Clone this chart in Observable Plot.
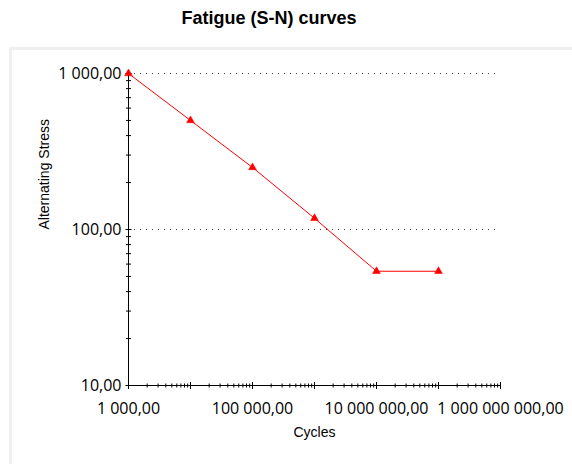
<!DOCTYPE html>
<html>
<head>
<meta charset="utf-8">
<script src="https://cdn.jsdelivr.net/npm/d3@7"></script>
<script src="https://cdn.jsdelivr.net/npm/@observablehq/plot@0.6"></script>
<style>
  html, body { margin: 0; padding: 0; background: #fff; }
  #wrap { position: relative; width: 572px; height: 464px; overflow: hidden; background: #fff; }
  #title { position: absolute; left: 0; top: 8px; width: 538px; text-align: center;
           font: bold 18px "Liberation Sans", Arial, sans-serif; color: #000; }
  #panel { position: absolute; left: 9px; top: 47px; width: 700px; height: 600px;
           border: 3px solid #f0f0f0; box-sizing: border-box; }
  #chart { position: absolute; left: 0; top: 0; }
</style>
</head>
<body>
<div id="wrap">
  <div id="panel"></div>
  <div id="title">Fatigue (S-N) curves</div>
  <div id="chart"></div>
</div>
<script>
// Data (S-N curve)
const cycles = [1e3, 1e4, 1e5, 1e6, 1e7, 1e8];
const stress = [1000, 500, 250, 118, 54, 54];

// Axis tick labels
const xTickValues = [1e3, 1e5, 1e7, 1e9];
const yTickValues = [10, 100, 1000];
const xDecades = [1e3, 1e4, 1e5, 1e6, 1e7, 1e8, 1e9];
const yDecades = [10, 100, 1000];
const minorMultipliers = [2, 3, 4, 5, 6, 7, 8, 9];
const gridValues = [100, 1000];

const xTitle = "Cycles";
const yTitle = "Alternating Stress";

const data = cycles.map((c, i) => ({cycles: c, stress: stress[i]}));
const xMinor = xDecades.slice(0, -1).flatMap(d => minorMultipliers.map(m => d * m));
const yMinor = yDecades.slice(0, -1).flatMap(d => minorMultipliers.map(m => d * m));

const fmt = d3.formatLocale({decimal: ",", thousands: "\u00a0", grouping: [3], currency: ["", ""]}).format(",.2f");

const vTick = h => ({draw(ctx) { ctx.moveTo(0, -h); ctx.lineTo(0, h); }});
const hTick = w => ({draw(ctx) { ctx.moveTo(-w, 0); ctx.lineTo(w, 0); }});

const labelFont = '"Open Sans", sans-serif';
const titleFont = '"Liberation Sans", Arial, sans-serif';

const chart = Plot.plot({
  width: 572,
  height: 464,
  marginLeft: 128,
  marginRight: 72,
  marginTop: 73,
  marginBottom: 79,
  style: {background: "transparent", overflow: "visible"},
  x: {type: "log", domain: [1e3, 1e9], axis: null},
  y: {type: "log", domain: [10, 1000], axis: null},
  marks: [
    // dotted grid
    Plot.ruleY(gridValues, {x1: 1e3, x2: 1e9, stroke: "#404040", strokeDasharray: "1,5", strokeWidth: 1}),
    // axis lines
    Plot.ruleY([10], {x1: 1e3, x2: 1e9, stroke: "#000", strokeWidth: 1}),
    Plot.ruleX([1e3], {y1: 10, y2: 1000, stroke: "#000", strokeWidth: 1}),
    // x ticks
    Plot.dot(xMinor, {x: d => d, y: 10, r: 1, symbol: vTick(2), stroke: "#000", fill: "none", strokeWidth: 1}),
    Plot.dot(xDecades, {x: d => d, y: 10, r: 1, symbol: vTick(3.5), stroke: "#000", fill: "none", strokeWidth: 1}),
    // y ticks
    Plot.dot(yMinor, {x: 1e3, y: d => d, r: 1, symbol: hTick(2.5), stroke: "#000", fill: "none", strokeWidth: 1}),
    Plot.dot(yDecades, {x: 1e3, y: d => d, r: 1, symbol: hTick(3), stroke: "#000", fill: "none", strokeWidth: 1}),
    // tick labels
    Plot.text(xTickValues, {x: d => d, y: 10, dy: 23, text: d => fmt(d), fontSize: 16, fontFamily: labelFont, fill: "#000"}),
    Plot.text(yTickValues, {x: 1e3, y: d => d, dx: -7, text: d => fmt(d), textAnchor: "end", fontSize: 16, fontFamily: labelFont, fill: "#000"}),
    // axis titles
    Plot.text([xTitle], {frameAnchor: "bottom", dy: 51, text: d => d, fontSize: 14, fontFamily: titleFont, fill: "#000"}),
    Plot.text([yTitle], {frameAnchor: "left", dx: -84, rotate: -90, text: d => d, fontSize: 14, fontFamily: titleFont, fill: "#000"}),
    // S-N curve
    Plot.line(data, {x: "cycles", y: "stress", stroke: "#ff0000", strokeWidth: 1}),
    Plot.dot(data, {x: "cycles", y: "stress", symbol: "triangle", r: 2.9, fill: "#ff0000", stroke: "#ff0000", strokeWidth: 0.5})
  ]
});
document.getElementById("chart").appendChild(chart);
</script>
</body>
</html>
